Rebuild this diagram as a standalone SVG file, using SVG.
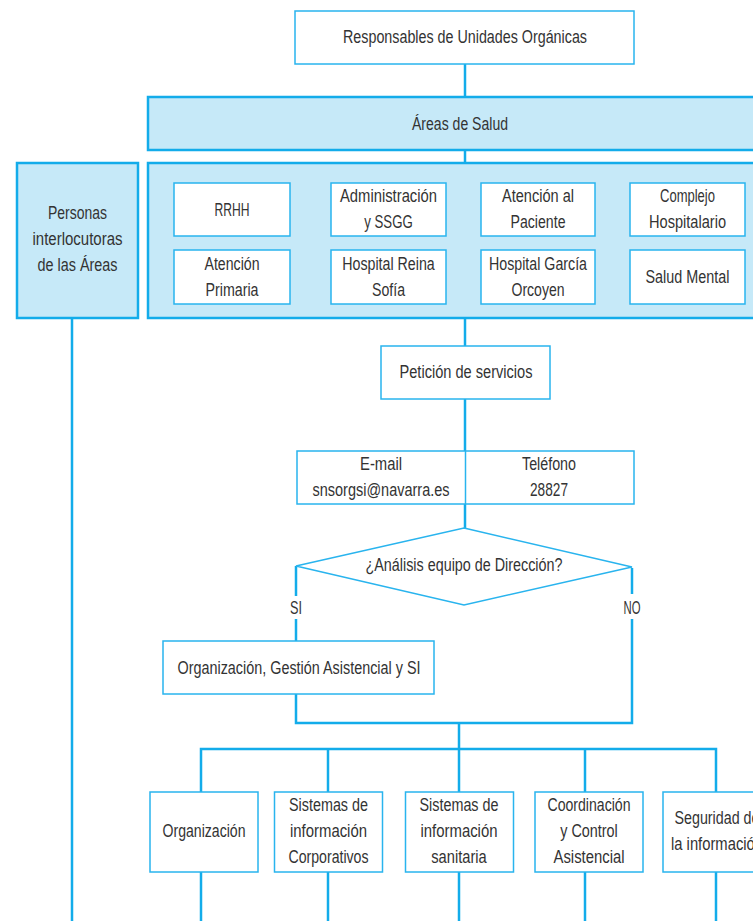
<svg xmlns="http://www.w3.org/2000/svg" width="753" height="921" viewBox="0 0 753 921">
<style>
.bx{fill:#ffffff;stroke:#29b4ee;stroke-width:1.5}
.bf{fill:#c6e9f8;stroke:#13acea;stroke-width:2.5}
.c{stroke:#13acea;stroke-width:2.5;fill:none}
.ct{stroke:#29b4ee;stroke-width:1.5;fill:none}
text{font-family:"Liberation Sans",Arial,sans-serif;font-size:17.5px;fill:#333333;text-anchor:middle}
</style>
<rect x="0" y="0" width="753" height="921" fill="#ffffff"/>
<g id="connectors">
<line class="c" x1="465" y1="64" x2="465" y2="97"/>
<line class="c" x1="465" y1="150" x2="465" y2="162"/>
<line class="c" x1="465" y1="318" x2="465" y2="346"/>
<line class="c" x1="465" y1="399" x2="465" y2="451"/>
<line class="c" x1="465" y1="504" x2="465" y2="528"/>
<line class="c" x1="296" y1="566" x2="296" y2="596"/>
<line class="c" x1="296" y1="619" x2="296" y2="641"/>
<line class="c" x1="632" y1="568" x2="632" y2="594"/>
<polyline class="c" points="632,619 632,723 296,723 296,694"/>
<line class="c" x1="459" y1="723" x2="459" y2="749"/>
<polyline class="c" points="201,792 201,749 716,749 716,792"/>
<line class="c" x1="328" y1="749" x2="328" y2="792"/>
<line class="c" x1="459" y1="749" x2="459" y2="792"/>
<line class="c" x1="585" y1="749" x2="585" y2="792"/>
<line class="c" x1="201" y1="872" x2="201" y2="921"/>
<line class="c" x1="328" y1="872" x2="328" y2="921"/>
<line class="c" x1="459" y1="872" x2="459" y2="921"/>
<line class="c" x1="585" y1="872" x2="585" y2="921"/>
<line class="c" x1="716" y1="872" x2="716" y2="921"/>
<line class="c" x1="72" y1="318" x2="72" y2="921"/>
</g>
<g id="responsables">
<rect class="bx" x="295" y="11" width="339" height="53"/>
<text x="465" y="43" textLength="244" lengthAdjust="spacingAndGlyphs">Responsables de Unidades Orgánicas</text>
</g>
<g id="areas-salud">
<rect class="bf" x="148" y="97" width="640" height="53"/>
<text x="460" y="130" textLength="96" lengthAdjust="spacingAndGlyphs">Áreas de Salud</text>
</g>
<g id="personas">
<rect class="bf" x="17" y="163" width="121" height="155"/>
<text x="77.5" y="219" textLength="59" lengthAdjust="spacingAndGlyphs">Personas</text>
<text x="77.5" y="245" textLength="90" lengthAdjust="spacingAndGlyphs">interlocutoras</text>
<text x="77.5" y="271" textLength="80" lengthAdjust="spacingAndGlyphs">de las Áreas</text>
</g>
<g id="areas-grupo">
<rect class="bf" x="148" y="163" width="640" height="155"/>
</g>
<g id="rrhh">
<rect class="bx" x="174" y="183" width="116" height="53"/>
<text x="232" y="216" textLength="35" lengthAdjust="spacingAndGlyphs">RRHH</text>
</g>
<g id="administracion">
<rect class="bx" x="331" y="183" width="115" height="53"/>
<text x="388.5" y="202" textLength="97" lengthAdjust="spacingAndGlyphs">Administración</text>
<text x="388.5" y="228" textLength="48.5" lengthAdjust="spacingAndGlyphs">y SSGG</text>
</g>
<g id="atencion-paciente">
<rect class="bx" x="481" y="183" width="114" height="53"/>
<text x="538" y="202" textLength="72" lengthAdjust="spacingAndGlyphs">Atención al</text>
<text x="538" y="228" textLength="55" lengthAdjust="spacingAndGlyphs">Paciente</text>
</g>
<g id="complejo">
<rect class="bx" x="630" y="183" width="115" height="53"/>
<text x="687.5" y="202" textLength="55" lengthAdjust="spacingAndGlyphs">Complejo</text>
<text x="687.5" y="228" textLength="77" lengthAdjust="spacingAndGlyphs">Hospitalario</text>
</g>
<g id="atencion-primaria">
<rect class="bx" x="174" y="250" width="116" height="54"/>
<text x="232" y="270" textLength="55" lengthAdjust="spacingAndGlyphs">Atención</text>
<text x="232" y="296" textLength="53" lengthAdjust="spacingAndGlyphs">Primaria</text>
</g>
<g id="reina-sofia">
<rect class="bx" x="331" y="250" width="115" height="54"/>
<text x="388.5" y="270" textLength="92.5" lengthAdjust="spacingAndGlyphs">Hospital Reina</text>
<text x="388.5" y="296" textLength="33" lengthAdjust="spacingAndGlyphs">Sofía</text>
</g>
<g id="garcia-orcoyen">
<rect class="bx" x="481" y="250" width="114" height="54"/>
<text x="538" y="270" textLength="98" lengthAdjust="spacingAndGlyphs">Hospital García</text>
<text x="538" y="296" textLength="53" lengthAdjust="spacingAndGlyphs">Orcoyen</text>
</g>
<g id="salud-mental">
<rect class="bx" x="630" y="250" width="115" height="54"/>
<text x="687.5" y="283" textLength="84" lengthAdjust="spacingAndGlyphs">Salud Mental</text>
</g>
<g id="peticion">
<rect class="bx" x="381" y="346" width="169" height="53"/>
<text x="466" y="378" textLength="133" lengthAdjust="spacingAndGlyphs">Petición de servicios</text>
</g>
<g id="contacto">
<rect class="bx" x="297" y="451" width="337" height="53"/>
<line class="ct" x1="465.5" y1="451" x2="465.5" y2="504"/>
<text x="381" y="470" textLength="42" lengthAdjust="spacingAndGlyphs">E-mail</text>
<text x="381" y="496" textLength="137" lengthAdjust="spacingAndGlyphs">snsorgsi@navarra.es</text>
<text x="549" y="470" textLength="54" lengthAdjust="spacingAndGlyphs">Teléfono</text>
<text x="549" y="496" textLength="38" lengthAdjust="spacingAndGlyphs">28827</text>
</g>
<g id="decision">
<polygon class="ct" fill="#ffffff" points="464,528 632,567 464,605 296,566"/>
<text x="464" y="571" textLength="197" lengthAdjust="spacingAndGlyphs">¿Análisis equipo de Dirección?</text>
<text x="296" y="614" textLength="12" lengthAdjust="spacingAndGlyphs">SI</text>
<text x="632" y="614" textLength="17" lengthAdjust="spacingAndGlyphs">NO</text>
</g>
<g id="organizacion-gestion">
<rect class="bx" x="163" y="641" width="271" height="53"/>
<text x="299" y="674" textLength="243" lengthAdjust="spacingAndGlyphs">Organización, Gestión Asistencial y SI</text>
</g>
<g id="organizacion">
<rect class="bx" x="150" y="792" width="108" height="80"/>
<text x="204" y="837" textLength="83" lengthAdjust="spacingAndGlyphs">Organización</text>
</g>
<g id="si-corporativos">
<rect class="bx" x="274.5" y="792" width="108" height="80"/>
<text x="328.5" y="811" textLength="79" lengthAdjust="spacingAndGlyphs">Sistemas de</text>
<text x="328.5" y="837" textLength="77" lengthAdjust="spacingAndGlyphs">información</text>
<text x="328.5" y="863" textLength="80" lengthAdjust="spacingAndGlyphs">Corporativos</text>
</g>
<g id="si-sanitaria">
<rect class="bx" x="405.5" y="792" width="108" height="80"/>
<text x="459" y="811" textLength="79" lengthAdjust="spacingAndGlyphs">Sistemas de</text>
<text x="459" y="837" textLength="77" lengthAdjust="spacingAndGlyphs">información</text>
<text x="459" y="863" textLength="55.5" lengthAdjust="spacingAndGlyphs">sanitaria</text>
</g>
<g id="coordinacion">
<rect class="bx" x="535" y="792" width="108" height="80"/>
<text x="589" y="811" textLength="83" lengthAdjust="spacingAndGlyphs">Coordinación</text>
<text x="589" y="837" textLength="57.5" lengthAdjust="spacingAndGlyphs">y Control</text>
<text x="589" y="863" textLength="71" lengthAdjust="spacingAndGlyphs">Asistencial</text>
</g>
<g id="seguridad">
<rect class="bx" x="663" y="792" width="108" height="80"/>
<text x="717" y="824" textLength="85" lengthAdjust="spacingAndGlyphs">Seguridad de</text>
<text x="717" y="850" textLength="92" lengthAdjust="spacingAndGlyphs">la información</text>
</g>
</svg>
